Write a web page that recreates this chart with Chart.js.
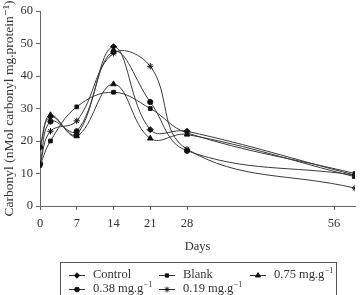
<!DOCTYPE html>
<html>
<head>
<meta charset="utf-8">
<script src="https://cdn.jsdelivr.net/npm/chart.js@4"></script>
<style>
  body { margin: 0; background: #fff; }
  #wrap { width: 360px; height: 295px; }
</style>
</head>
<body>
<div id="wrap"><canvas id="c" width="360" height="295"></canvas></div>
<script>
// days of sampling
const days = [0, 2, 7, 14, 21, 28, 60];
const xTicks = [0, 7, 14, 21, 28, 56];

// carbonyl values per group
const control = [18, 27.5, 22, 49, 23.5, 23, 9.5];
const blank = [12.5, 20, 30.5, 35, 30, 22.5, 10];
const dose075 = [18.5, 28, 21.5, 37.5, 20.8, 22, 9];
const dose038 = [13, 26, 23, 47.5, 32, 17, 9.5];
const dose019 = [13, 23, 26.2, 47, 43, 17.5, 5.5];

const names = ['Control', 'Blank', '0.75 mg.g', '0.38 mg.g', '0.19 mg.g'];
const hasSup = [false, false, true, true, true];
const styles = ['rectRot', 'rect', 'triangle', 'circle', 'star'];
const sizes = [3, 2.6, 3.2, 2.6, 3.2];
const serif = "'Liberation Serif', 'DejaVu Serif', serif";
const ink = '#333';

function pts(arr) {
  return arr.map((v, i) => ({ x: days[i], y: v }));
}

const series = [control, blank, dose075, dose038, dose019];
const datasets = series.map((s, i) => ({
  label: names[i],
  data: pts(s),
  borderColor: '#3a3a3a',
  borderWidth: 1,
  backgroundColor: '#111',
  pointBackgroundColor: '#111',
  pointBorderColor: '#111',
  pointBorderWidth: 1,
  pointStyle: styles[i],
  pointRadius: sizes[i],
  tension: 0.4,
  fill: false
}));

// boxed legend under the chart, 3 columns
const boxLegend = {
  id: 'boxLegend',
  afterDraw(chart) {
    const ctx = chart.ctx;
    ctx.save();
    ctx.strokeStyle = '#555';
    ctx.lineWidth = 1;
    ctx.strokeRect(60.5, 262.5, 276, 40);
    const cols = [69, 159, 250];
    const rows = [275, 289];
    for (let i = 0; i < names.length; i++) {
      const x = cols[i % 3];
      const y = rows[Math.floor(i / 3)];
      ctx.strokeStyle = '#333';
      ctx.beginPath();
      ctx.moveTo(x, y + 0.5);
      ctx.lineTo(x + 16, y + 0.5);
      ctx.stroke();
      ctx.fillStyle = '#111';
      ctx.strokeStyle = '#111';
      if (Chart.helpers && Chart.helpers.drawPoint) {
        Chart.helpers.drawPoint(ctx, { pointStyle: styles[i], radius: sizes[i] * 0.9, borderWidth: 1, rotation: 0 }, x + 8, y + 0.5);
      } else {
        ctx.fillRect(x + 6, y - 1.5, 4, 4);
      }
      ctx.fillStyle = ink;
      ctx.font = '12.5px ' + serif;
      ctx.textBaseline = 'middle';
      ctx.fillText(names[i], x + 24, y);
      if (hasSup[i]) {
        const w = ctx.measureText(names[i]).width;
        ctx.font = '8px ' + serif;
        ctx.fillText('\u22121', x + 24 + w + 0.5, y - 4);
      }
    }
    ctx.restore();
  }
};

new Chart(document.getElementById('c'), {
  type: 'line',
  data: { datasets },
  plugins: [boxLegend],
  options: {
    responsive: false,
    animation: false,
    layout: { padding: { left: 0, top: 11, right: 5, bottom: 39 } },
    plugins: {
      legend: { display: false },
      tooltip: { enabled: false }
    },
    scales: {
      x: {
        type: 'linear',
        min: 0,
        max: 60,
        afterBuildTicks: (s) => { s.ticks = xTicks.map(v => ({ value: v })); },
        afterFit: (s) => { s.height = 50; },
        grid: { drawOnChartArea: false, drawTicks: true, tickLength: 4, color: '#666' },
        border: { color: '#666' },
        ticks: { color: ink, padding: 6, font: { family: serif, size: 12.5 }, maxRotation: 0 },
        title: { display: true, text: 'Days', color: ink, padding: { top: 0, bottom: 2 }, font: { family: serif, size: 12.5 } }
      },
      y: {
        min: 0,
        max: 60,
        afterFit: (s) => { s.width = 40; },
        grid: { drawOnChartArea: false, drawTicks: true, tickLength: 4, color: '#666' },
        border: { color: '#666' },
        ticks: { stepSize: 10, color: ink, padding: 3, font: { family: serif, size: 12.5 } },
        title: { display: true, text: 'Carbonyl (nMol carbonyl mg.protein\u207B\u00B9)', color: ink, padding: { top: 1, bottom: 0 }, font: { family: serif, size: 13.5 } }
      }
    }
  }
});
</script>
</body>
</html>
